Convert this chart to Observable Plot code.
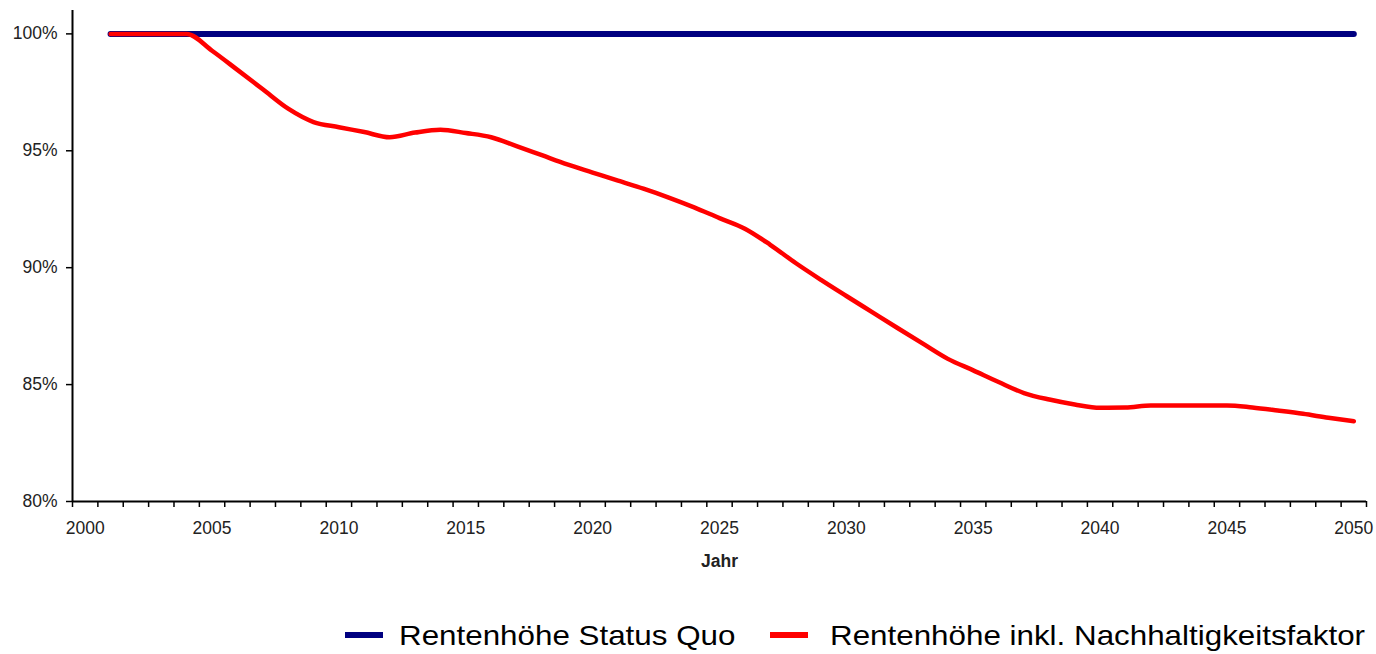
<!DOCTYPE html>
<html>
<head>
<meta charset="utf-8">
<script src="https://cdn.jsdelivr.net/npm/d3@7"></script>
<script src="https://cdn.jsdelivr.net/npm/@observablehq/plot@0.6"></script>
<style>
  html, body { margin: 0; padding: 0; background: #fff; }
  #chart { width: 1376px; height: 654px; position: relative; overflow: hidden; }
  .legend { position: absolute; left: 0; top: 616px; width: 1376px; height: 38px;
            font-family: "Liberation Sans", Arial, sans-serif; font-size: 28.5px; color: #000; }
  .item { position: absolute; top: 0; white-space: nowrap; line-height: 38px; }
  .txt { display: inline-block; transform: scaleX(1.1); transform-origin: left center; }
  .sw { display: inline-block; width: 38px; height: 6px; vertical-align: middle; margin-right: 16px; position: relative; top: -2px; }
</style>
</head>
<body>
<div id="chart"></div>
<script>
const years = [2001,2002,2003,2004,2005,2006,2007,2008,2009,2010,
               2011,2012,2013,2014,2015,2016,2017,2018,2019,2020,
               2021,2022,2023,2024,2025,2026,2027,2028,2029,2030,
               2031,2032,2033,2034,2035,2036,2037,2038,2039,2040,
               2041,2042,2043,2044,2045,2046,2047,2048,2049,2050];
const statusQuo = [100,100,100,100,100,100,100,100,100,100,
                   100,100,100,100,100,100,100,100,100,100,
                   100,100,100,100,100,100,100,100,100,100,
                   100,100,100,100,100,100,100,100,100,100,
                   100,100,100,100,100,100,100,100,100,100];
const nachhaltigkeit = [100,100,100,100,99.28,98.46,97.63,96.8,96.23,96.01,
                        95.8,95.58,95.78,95.9,95.76,95.58,95.2,94.81,94.42,94.07,
                        93.72,93.38,93.0,92.58,92.12,91.67,90.98,90.2,89.48,88.79,
                        88.11,87.43,86.76,86.1,85.61,85.11,84.64,84.36,84.15,84.01,
                        84.02,84.11,84.11,84.11,84.11,84.02,83.89,83.75,83.58,83.43];
const seriesNames = ["Rentenhöhe Status Quo", "Rentenhöhe inkl. Nachhaltigkeitsfaktor"];
const seriesColors = ["#000080", "#ff0000"];
const yTicks = [80, 85, 90, 95, 100];
const xLabelYears = [2000,2005,2010,2015,2020,2025,2030,2035,2040,2045,2050];
const xAxisTitle = "Jahr";

const quo = years.map((y, i) => ({year: y, value: statusQuo[i]}));
const nach = years.map((y, i) => ({year: y, value: nachhaltigkeit[i]}));
const boundaries = d3.range(1999.5, 2051, 1);

const plot = Plot.plot({
  width: 1376,
  height: 610,
  marginLeft: 72,
  marginRight: 10,
  marginTop: 10,
  marginBottom: 109,
  style: {fontFamily: "'Liberation Sans', Arial, sans-serif", fontSize: "17.5px", color: "#222", background: "white"},
  x: {domain: [1999.5, 2050.5]},
  y: {domain: [80, 101]},
  marks: [
    Plot.axisY({ticks: yTicks, tickFormat: d => d + "%", tickSize: 6, tickPadding: 9, label: null, fontSize: 17.5, stroke: "#000", strokeWidth: 1.5}),
    Plot.axisX({ticks: boundaries, tickFormat: () => "", tickSize: 6, label: null, stroke: "#000", strokeWidth: 1.5}),
    Plot.axisX({ticks: xLabelYears, tickFormat: d => String(d), tickSize: 0, tickPadding: 20, label: null, fontSize: 17.5}),
    Plot.ruleY([80], {stroke: "#000", strokeWidth: 2}),
    Plot.ruleX([1999.5], {stroke: "#000", strokeWidth: 2}),
    Plot.line(quo, {x: "year", y: "value", stroke: seriesColors[0], strokeWidth: 6, strokeLinecap: "round"}),
    Plot.line(nach, {x: "year", y: "value", stroke: seriesColors[1], strokeWidth: 4.5, curve: "monotone-x", strokeLinecap: "round"}),
    Plot.text([xAxisTitle], {frameAnchor: "bottom", dy: 65, fontWeight: "bold", fontSize: 17.5, fill: "#222"})
  ]
});
document.getElementById("chart").appendChild(plot);

const legend = document.createElement("div");
legend.className = "legend";
const positions = [345, 770];
seriesNames.forEach((name, i) => {
  const it = document.createElement("div");
  it.className = "item";
  it.style.left = positions[i] + "px";
  const sw = document.createElement("span");
  sw.className = "sw";
  sw.style.background = seriesColors[i];
  if (i === 1) sw.style.marginRight = "22px";
  it.appendChild(sw);
  const t = document.createElement("span");
  t.className = "txt";
  t.textContent = name;
  it.appendChild(t);
  legend.appendChild(it);
});
document.getElementById("chart").appendChild(legend);
</script>
</body>
</html>
